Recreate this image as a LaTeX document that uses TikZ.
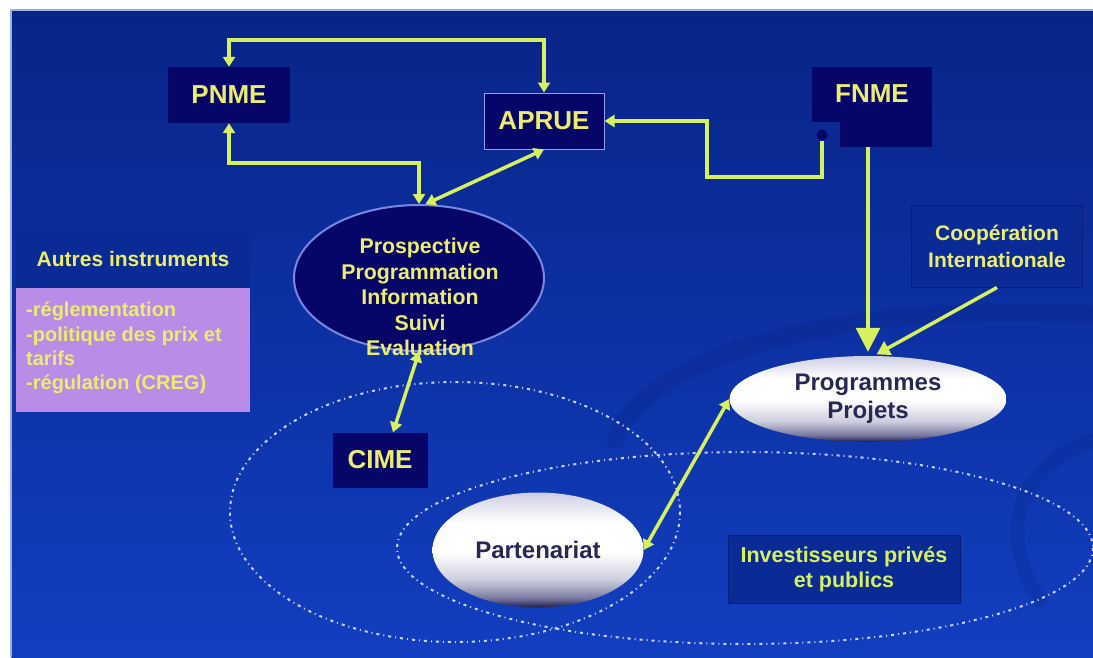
\documentclass[tikz,border=0pt]{standalone}
\usepackage{fontspec}
\setmainfont{Liberation Sans}
\usetikzlibrary{arrows.meta,calc,shapes.geometric}
\definecolor{bgtop}{RGB}{8,36,135}
\definecolor{bgbot}{RGB}{18,62,192}
\definecolor{navy}{RGB}{6,6,105}
\definecolor{ytext}{RGB}{236,236,110}
\definecolor{lineyel}{RGB}{214,240,96}
\definecolor{lilac}{RGB}{185,140,232}
\definecolor{midbox}{RGB}{10,42,150}
\definecolor{boxedge}{RGB}{8,30,118}
\definecolor{edgeblue}{RGB}{120,135,225}
\definecolor{dotcol}{RGB}{200,212,245}
\definecolor{darktext}{RGB}{40,40,85}
\definecolor{pearledge}{RGB}{28,28,78}
\definecolor{pearlmid}{RGB}{120,120,160}
\definecolor{pearlgray}{RGB}{205,205,222}
\definecolor{pearltop}{RGB}{205,205,228}
\definecolor{frameline}{RGB}{150,180,225}
\definecolor{swoosh}{RGB}{6,30,120}
\pgfdeclareverticalshading{pearl}{100bp}{color(0bp)=(pearledge); color(25bp)=(pearledge); color(29bp)=(pearlmid); color(37bp)=(pearlgray); color(49bp)=(white); color(62bp)=(white); color(75bp)=(pearltop); color(100bp)=(pearltop)}
\tikzset{
  navybox/.style={fill=navy, inner sep=0pt, text=ytext, font=\fontsize{26}{30}\selectfont\bfseries},
  bluebox/.style={fill=midbox, draw=boxedge, line width=1pt, inner sep=0pt, align=center},
  pearlnode/.style={ellipse, shading=pearl, inner sep=0pt, text=darktext, align=center, font=\fontsize{24}{28}\selectfont\bfseries},
  conn/.style={draw=lineyel, line width=3.5pt},
  dotell/.style={draw=dotcol, line width=2pt, dash pattern=on 3pt off 4pt on 1pt off 4pt},
  >={Triangle[width=12pt,length=10pt]}
}
\begin{document}
\begin{tikzpicture}[x=1pt,y=-1pt]
\useasboundingbox (0,0) rectangle (1093,657);
\fill[white] (0,0) rectangle (1093,657);
\shade[top color=bgtop, bottom color=bgbot] (11,10) rectangle (1093,657);
\draw[frameline, line width=1.5pt] (11,657) -- (11,10) -- (1093,10);
% background swoosh
\draw[swoosh, line width=18pt, opacity=0.2, line cap=round] (615,440) .. controls (650,340) and (900,300) .. (1093,315);
\draw[swoosh, line width=14pt, opacity=0.18, line cap=round] (1040,600) .. controls (1000,540) and (1010,470) .. (1093,440);
% dotted ellipses
\draw[dotell] (455,512) ellipse [x radius=225, y radius=130];
\draw[dotell] (745,548) ellipse [x radius=348, y radius=96];
% boxes
\node[navybox, minimum width=122pt, minimum height=56pt] (pnme) at (229,95) {PNME};
\node[navybox, draw=edgeblue!80, line width=1pt, minimum width=120pt, minimum height=56pt] (aprue) at (544,121) {APRUE};
\node[navybox, minimum width=120pt, minimum height=55pt] (fnme) at (872,94) {FNME};
\node[fill=navy, inner sep=0pt, minimum width=92pt, minimum height=26pt, anchor=north] (fnmelow) at (886,121) {};
\node[circle, fill=navy, minimum size=11pt, inner sep=0pt] (dot) at (822,135) {};
\node[ellipse, fill=navy, draw=edgeblue, line width=2pt, minimum width=250pt, minimum height=146pt, inner sep=0pt] (prosp) at (419,278) {};
\node[navybox, fill=none, align=center, font=\fontsize{21.3}{25.5}\selectfont\bfseries] (prosptext) at (420,297) {Prospective\\Programmation\\Information\\Suivi\\Evaluation};
\node[navybox, minimum width=95pt, minimum height=55pt] (cime) at (380,460) {CIME};
\node[fill=midbox, inner sep=0pt, minimum width=234pt, minimum height=57pt, text=ytext, font=\fontsize{21}{25}\selectfont\bfseries] (autres) at (133,259) {Autres instruments};
\node[fill=lilac, inner sep=0pt, minimum width=234pt, minimum height=124pt] (purple) at (133,350) {};
\node[anchor=north west, align=left, inner sep=0pt, text=ytext, font=\fontsize{20}{24.2}\selectfont\bfseries] (ptext) at (26,302) {-réglementation\\-politique des prix et\\tarifs\\-régulation (CREG)};
\node[bluebox, minimum width=171pt, minimum height=82pt, text=ytext, font=\fontsize{21}{27}\selectfont\bfseries] (coop) at (997,246) {Coopération\\Internationale};
\node[pearlnode, minimum width=277pt, minimum height=86pt] (prog) at (868,399) {Programmes\\Projets};
\node[pearlnode, minimum width=211pt, minimum height=115pt] (part) at (538,550) {Partenariat};
\node[bluebox, minimum width=232pt, minimum height=68pt, text=lineyel, font=\fontsize{21.5}{25}\selectfont\bfseries] (invest) at (844,569) {Investisseurs privés\\et publics};
% connectors
\coordinate (bend) at (707,177);
\draw[conn,<->] (pnme.north) -- ++(0,-27) -| (aprue.north);
\draw[conn,<->] (pnme.south) -- ++(0,40) -| (prosp.north);
\draw[conn,<->] (aprue.south) -- (prosp.85);
\draw[conn,->] (dot.south) |- (bend) |- (aprue.east);
\draw[conn,-{Triangle[width=24pt,length=24pt]}, shorten >=4pt] (fnmelow.south -| prog.north) -- (prog.north);
\draw[conn,-{Triangle[width=15pt,length=13pt]}, shorten >=3pt] (coop.south) -- ([xshift=6pt]prog.north);
\draw[conn,<->] (prosp.south) -- ([xshift=13pt]cime.north);
\draw[conn,<->] (prog.west) -- (part.east);
\end{tikzpicture}
\end{document}
